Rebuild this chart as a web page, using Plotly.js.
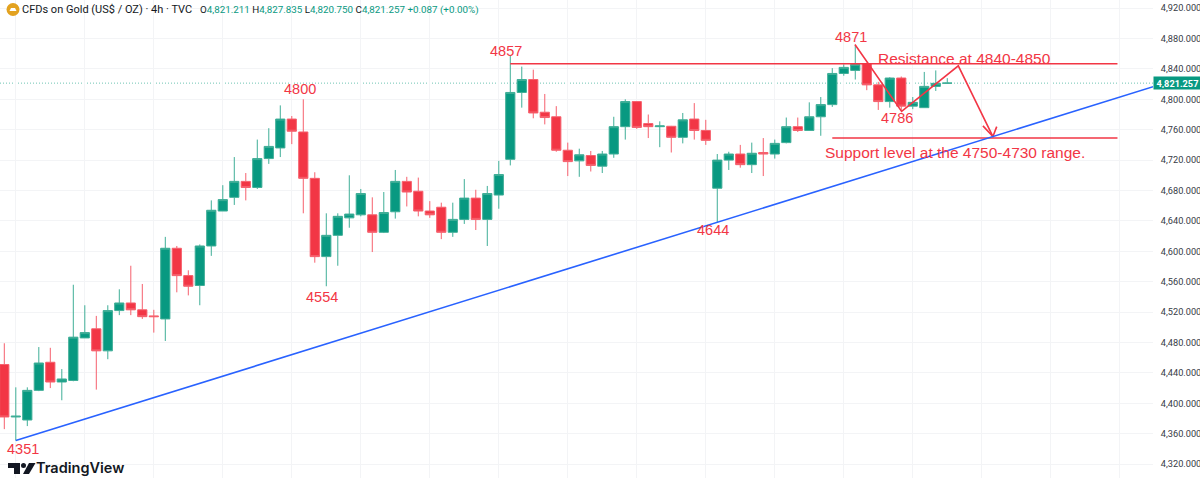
<!DOCTYPE html>
<html><head><meta charset="utf-8">
<script src="https://cdn.plot.ly/plotly-3.0.1.min.js"></script>
<style>html,body{margin:0;padding:0;background:#fff}#c{width:1200px;height:478px}</style>
</head><body><div id="c"></div>
<script>
const opens=[4451,4382,4378,4417,4454,4428,4430,4486,4498,4469,4522,4532,4523,4515,4511,4604,4568,4555,4607,4653,4671,4692,4684,4722,4736,4774,4757,4696,4593,4621,4644,4648,4648,4625,4652,4692,4679,4653,4658,4625,4642,4670,4642,4674,4721,4809,4826,4783,4777,4733,4719,4726,4712,4728,4764,4797,4768,4764,4764.5,4750,4774,4759,4683,4720,4728,4714,4730,4728,4743,4764,4759,4777,4793,4834,4838,4847,4819,4797,4828,4791,4789,4817,4821.211];
const highs=[4479,4421,4421,4474,4473,4445,4556,4529,4515,4529,4550,4581,4557,4523,4619,4607,4575,4609,4667,4687,4724,4703,4747,4762,4792,4778,4800,4704,4650,4650,4700,4682,4671,4678,4707,4698,4697,4666,4664,4664,4695,4681,4686,4719,4857,4843,4839,4807,4791,4743,4735,4732,4732,4777,4800,4797,4780,4771,4765,4782,4795,4773,4728,4731,4740,4743,4749,4747,4776,4776,4796,4803,4841,4846,4871,4848,4823,4829,4830,4803,4836,4838,4827.835];
const lows=[4366,4351,4370,4416,4420,4404,4429,4486,4418,4458,4516,4516,4511,4493,4482,4546,4542,4529,4594,4653,4661,4667,4682,4715,4724,4741,4650,4585,4554,4581,4631,4646,4599,4624,4643,4659,4646,4644,4616,4619,4636,4628,4607,4656,4713,4789,4775,4767,4731,4699,4698,4705,4703,4723,4747,4761,4749,4737,4730,4742,4747,4740,4638,4707,4710,4703,4699,4722,4742,4757,4759,4752,4790,4831,4826,4812,4786,4789,4786,4787,4789,4811,4820.75];
const closes=[4382,4383,4417,4453,4428,4432,4487,4493,4469,4522,4532,4523,4514,4514,4604,4568,4554,4607,4654,4668,4692,4684,4722,4738,4774,4758,4696,4593,4621,4646,4649,4676,4625,4651,4692,4678,4653,4648,4625,4642,4670,4642,4676,4701,4809,4826,4782,4776,4733,4718,4727,4713,4728,4764,4797,4763,4764,4765,4750,4773,4759,4746,4720,4728,4714,4729,4728,4742,4764,4759,4777,4793,4834,4842,4846,4819,4797,4828,4791,4796,4817,4821,4821.257];
const candleIndex=opens.map((_,i)=>i);
const priceTicks=[4320,4360,4400,4440,4480,4520,4560,4600,4640,4680,4720,4760,4800,4840,4880,4920];
const trendX=[1,99.9], trendY=[4351,4816.6];
const resistanceX=[44,96.8], resistanceY=[4846.8,4846.8];
const supportX=[72,96.8], supportY=[4749,4749];
const pathX=[73.97,78.03,82.96,85.97], pathY=[4872,4784,4844,4751];
const headX=[85.1,85.97,86.3], headY=[4765,4751,4764];
const lastPrice=4821.257;
const labels=[
 ["4800",25.67,4813],["4554",27.63,4540],["4351",1.6,4339.4],["4857",43.6,4863.5],
 ["4644",61.6,4628],["4871",73.6,4881.6],["4786",77.65,4775.8],
 ["Resistance at 4840-4850",83.5,4854],["Support level at the 4750-4730 range.",82.65,4729.7]
];
const W=1200,H=478,PW=1153,RED='#f23645',GREEN='#089981',BLUE='#2962ff';
const fx=p=>p/PW, fy=p=>1-p/H;
const pp=(pts)=>'M '+pts.map(([a,b])=>fx(a)+','+fy(b)).join(' L ')+' Z';
const tf="'Liberation Sans', Arial, sans-serif";
const line=(x,y,c,w)=>({type:'scatter',mode:'lines',x,y,line:{color:c,width:w},hoverinfo:'skip',cliponaxis:false,showlegend:false});
const traces=[
 {type:'candlestick',x:candleIndex,open:opens,high:highs,low:lows,close:closes,whiskerwidth:0,
  increasing:{line:{color:'#3fae97',width:1},fillcolor:GREEN},
  decreasing:{line:{color:'#f6606d',width:1},fillcolor:RED},hoverinfo:'skip',showlegend:false},
 line(resistanceX,resistanceY,RED,1.6),
 line(supportX,supportY,RED,1.6),
 line(pathX,pathY,RED,1.6),
 line(headX,headY,RED,1.6),
 line(trendX,trendY,BLUE,1.6)
];
const ann=labels.map(([text,x,y])=>({text,x,y,xref:'x',yref:'y',showarrow:false,xanchor:'center',yanchor:'middle',
  font:{family:tf,size:text.length>4?15.5:14.5,color:RED}}));
const val=s=>`<span style="color:${GREEN}">${s}</span>`;
ann.push({xref:'paper',yref:'paper',x:fx(20),y:fy(9.5),xanchor:'left',yanchor:'middle',showarrow:false,
  font:{family:"Roboto, sans-serif",size:11,color:'#131722'},text:'CFDs on Gold (US$ / OZ) · 4h · TVC'});
ann.push({xref:'paper',yref:'paper',x:fx(198),y:fy(9.5),xanchor:'left',yanchor:'middle',showarrow:false,
  font:{family:"Roboto, sans-serif",size:9.8,color:'#131722'},
  text:'O'+val('4,821.211')+' H'+val('4,827.835')+' L'+val('4,820.750')+' C'+val('4,821.257')+' '+val('+0.087 (+0.00%)')});
ann.push({xref:'paper',yref:'y',x:fx(1153),y:lastPrice,xanchor:'left',yanchor:'middle',showarrow:false,
  width:45,height:10,bgcolor:GREEN,borderpad:1,align:'center',
  font:{family:"Roboto, sans-serif",size:9.2,color:'#fff',weight:700},text:'4,821.257'});
ann.push({xref:'paper',yref:'paper',x:fx(34),y:fy(467.5),xanchor:'left',yanchor:'middle',showarrow:false,
  font:{family:"Inter, sans-serif",size:14.5,color:'#131722',weight:600},text:'TradingView'});
const shapes=[
 {type:'line',xref:'x domain',yref:'y',x0:0,x1:1,y0:lastPrice,y1:lastPrice,layer:'below',line:{color:'#6fc4b3',width:1,dash:'1px,2px'}},
 {type:'circle',xref:'paper',yref:'paper',x0:fx(6.5),x1:fx(19.5),y0:fy(3),y1:fy(16),fillcolor:'#e3a21f',line:{width:0}},
 {type:'path',xref:'paper',yref:'paper',path:pp([[9.5,11],[11,8],[15,8],[16.5,11]]),fillcolor:'#fff',line:{width:0}},
 {type:'path',xref:'paper',yref:'paper',path:pp([[8,463],[20,463],[20,474],[14,474],[14,468],[8,468]]),fillcolor:'#131722',line:{width:0}},
 {type:'circle',xref:'paper',yref:'paper',x0:fx(21),x1:fx(26),y0:fy(463),y1:fy(468),fillcolor:'#131722',line:{width:0}},
 {type:'path',xref:'paper',yref:'paper',path:pp([[29,463],[35.5,463],[29,474],[23,474]]),fillcolor:'#131722',line:{width:0}}
];
const layout={width:W,height:H,margin:{l:0,r:47,t:0,b:0},paper_bgcolor:'#fff',plot_bgcolor:'#fff',showlegend:false,boxmode:'overlay',boxgap:0.2,boxgroupgap:0,
 xaxis:{range:[-0.374,99.89],tick0:1,dtick:6,showticklabels:false,ticks:'',showgrid:true,gridcolor:'#f3f4f6',gridwidth:1,zeroline:false,showline:false,rangeslider:{visible:false}},
 yaxis:{side:'right',range:[4301.7,4930.66],tickmode:'array',tickvals:priceTicks,ticktext:priceTicks.map(v=>v.toLocaleString('en-US',{minimumFractionDigits:3})),
  ticks:'outside',ticklen:5,tickcolor:'rgba(0,0,0,0)',showgrid:true,gridcolor:'#f3f4f6',gridwidth:1,zeroline:false,showline:false,
  tickfont:{family:"Roboto, sans-serif",size:9.2,color:'#363a45'}},
 annotations:ann,shapes};
Plotly.newPlot('c',traces,layout,{displayModeBar:false,staticPlot:true});
</script></body></html>
